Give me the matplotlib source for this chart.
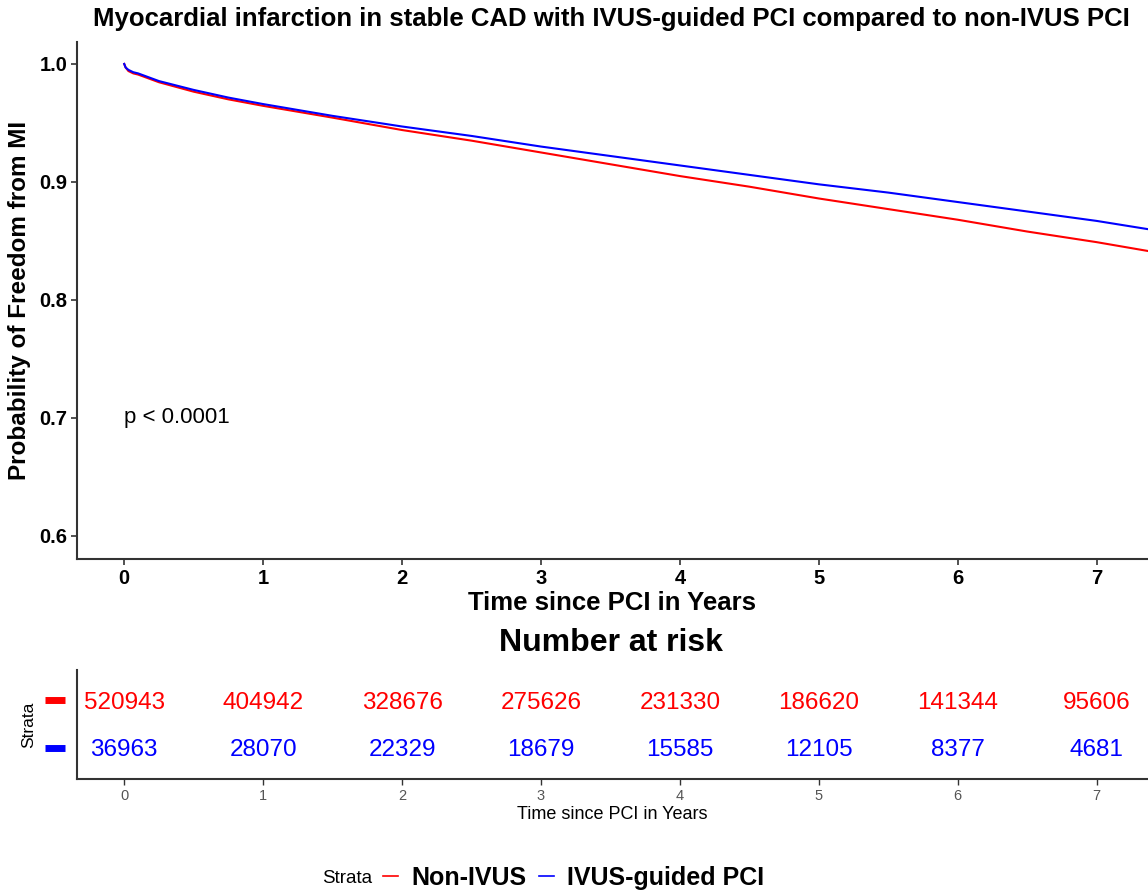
# Kaplan-Meier style plot with a number-at-risk table underneath

import matplotlib
matplotlib.use("Agg")
import matplotlib.pyplot as plt
from matplotlib.lines import Line2D

plt.rcParams['font.family'] = ['Liberation Sans', 'DejaVu Sans']

groups = ["Non-IVUS", "IVUS-guided PCI"]
colors = ["#ff0000", "#0000ff"]

# survival curves
times = [0, 0.01, 0.03, 0.065, 0.1, 0.25, 0.5, 0.75, 1, 1.5, 2, 2.5, 3, 3.5,
         4, 4.5, 5, 5.5, 6, 6.5, 7, 7.37]
surv_non_ivus = [1.0, 0.997, 0.994, 0.992, 0.991, 0.9845, 0.9765, 0.970, 0.9645,
                 0.9545, 0.944, 0.935, 0.925, 0.915, 0.905, 0.896, 0.886,
                 0.877, 0.868, 0.858, 0.849, 0.8415]
surv_ivus = [1.0, 0.997, 0.995, 0.993, 0.992, 0.9855, 0.978, 0.9715, 0.966,
             0.956, 0.947, 0.939, 0.930, 0.922, 0.914, 0.906, 0.898, 0.891,
             0.883, 0.875, 0.867, 0.860]

risk_times = [0, 1, 2, 3, 4, 5, 6, 7]
risk_non_ivus = [520943, 404942, 328676, 275626, 231330, 186620, 141344, 95606]
risk_ivus = [36963, 28070, 22329, 18679, 15585, 12105, 8377, 4681]

W, H = 1148, 896
fig = plt.figure(figsize=(W / 100, H / 100), dpi=100)

spine_col = "#333333"

# ---- main plot ----
ax = fig.add_axes([77 / W, 1 - 559 / H, 1071 / W, (559 - 42) / H])
ax.plot(times, surv_non_ivus, color=colors[0], lw=1.5)
ax.plot(times, surv_ivus, color=colors[1], lw=1.5)
ax.set_xlim(-0.34, 7.37)
ax.set_ylim(0.5805, 1.0186)
ax.set_xticks(range(8))
ax.set_yticks([0.6, 0.7, 0.8, 0.9, 1.0])
ax.set_yticklabels(["0.6", "0.7", "0.8", "0.9", "1.0"])
for lab in ax.get_xticklabels() + ax.get_yticklabels():
    lab.set_fontweight("bold")
    lab.set_fontsize(14.5)
ax.tick_params(length=4, width=1.2, color=spine_col, pad=3)
for s in ["top", "right"]:
    ax.spines[s].set_visible(False)
for s in ["left", "bottom"]:
    ax.spines[s].set_color(spine_col)
    ax.spines[s].set_linewidth(1.5)
ax.set_xlabel("Time since PCI in Years", fontsize=18.5, fontweight="bold", labelpad=2)
ax.set_ylabel("Probability of Freedom from MI", fontsize=17.5, fontweight="bold", labelpad=6)
ax.text(0, 0.7, "p < 0.0001", fontsize=16, va="center", ha="left")

fig.text(611 / W, 1 - 19 / H,
         "Myocardial infarction in stable CAD with IVUS-guided PCI compared to non-IVUS PCI",
         fontsize=18.5, fontweight="bold", ha="center", va="center")

# ---- risk table ----
rax = fig.add_axes([77 / W, 1 - 779 / H, 1071 / W, (779 - 670) / H])
for t, n in zip(risk_times, risk_non_ivus):
    rax.text(t, 2, str(n), color=colors[0], fontsize=17.5, ha="center", va="center_baseline")
for t, n in zip(risk_times, risk_ivus):
    rax.text(t, 1, str(n), color=colors[1], fontsize=17.5, ha="center", va="center_baseline")
rax.set_xlim(-0.34, 7.37)
rax.set_ylim(0.35, 2.63)
rax.set_xticks(risk_times)
rax.set_yticks([1, 2])
rax.set_yticklabels(["", ""])
rax.tick_params(axis="x", length=4, width=1.0, color=spine_col, labelsize=10.5,
                labelcolor="#555555")
rax.tick_params(axis="y", length=0)
for s in ["top", "right"]:
    rax.spines[s].set_visible(False)
for s in ["left", "bottom"]:
    rax.spines[s].set_color(spine_col)
    rax.spines[s].set_linewidth(1.5)
rax.set_xlabel("Time since PCI in Years", fontsize=13, labelpad=2)
rax.set_ylabel("Strata", fontsize=12.5, labelpad=26)
tr = rax.get_yaxis_transform()
for yv, c in zip([2, 1], colors):
    rax.add_line(Line2D([-0.030, -0.011], [yv, yv], transform=tr, color=c,
                        lw=5, clip_on=False, solid_capstyle="butt"))
fig.text(611 / W, 1 - 643 / H, "Number at risk", fontsize=23, fontweight="bold",
         ha="center", va="center")

# ---- legend ----
handles = [Line2D([], [], color=c, lw=1.2) for c in colors]
fig.text(372 / W, 1 - 878 / H, "Strata", fontsize=13.5, ha="right", va="center")
leg = fig.legend(handles, groups, loc="center left", bbox_to_anchor=(383 / W, 1 - 878 / H),
                 ncol=2, frameon=False, handlelength=0.6, handletextpad=0.52,
                 columnspacing=0.52, borderpad=0, borderaxespad=0,
                 prop={"size": 18, "weight": "bold"})

plt.savefig("out.png", dpi=100)
plt.close()
